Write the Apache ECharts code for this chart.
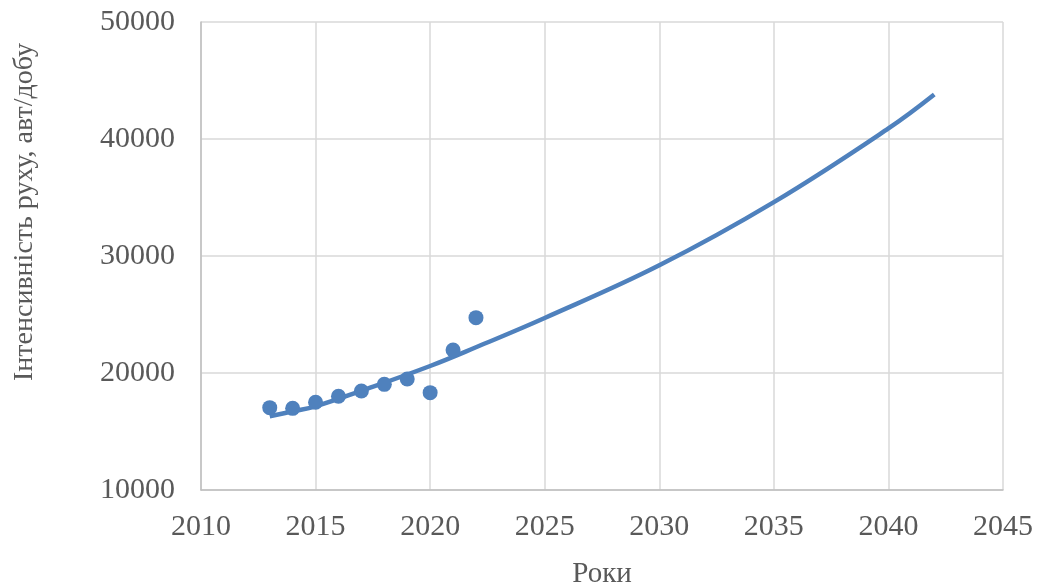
<!DOCTYPE html>
<html>
<head>
<meta charset="utf-8">
<script src="https://cdn.jsdelivr.net/npm/echarts@6/dist/echarts.min.js"></script>
<style>
  html, body { margin: 0; padding: 0; background: #fff; }
  #main { width: 1041px; height: 586px; }
</style>
</head>
<body>
<div id="main"></div>
<script>
// observed counts
const years = [2013, 2014, 2015, 2016, 2017, 2018, 2019, 2020, 2021, 2022];
const traffic = [17040, 16980, 17500, 18010, 18460, 19030, 19490, 18320, 21970, 24730];

// trend curve
const trendYears = [2013, 2014, 2015, 2017, 2020, 2022, 2025, 2030, 2035, 2040, 2042];
const trendValues = [16300, 16720, 17150, 18480, 20600, 22200, 24700, 29200, 34600, 40900, 43800];

const blue = '#4f81bd';
const textColor = '#595959';
const font = '"Liberation Serif", "Times New Roman", serif';

var myChart = echarts.init(document.getElementById('main'));
myChart.setOption({
    animation: false,
    grid: { left: 201, right: 38, top: 22, bottom: 96, outerBoundsMode: 'none' },
    xAxis: {
        type: 'value',
        min: 2010,
        max: 2045,
        interval: 5,
        name: 'Роки',
        nameLocation: 'middle',
        nameGap: 70,
        nameTextStyle: { color: textColor, fontFamily: font, fontSize: 29 },
        axisLine: { lineStyle: { color: '#bfbfbf', width: 1.5 } },
        axisTick: { show: false },
        axisLabel: { color: textColor, fontFamily: font, fontSize: 30, margin: 22,
            formatter: v => String(v) },
        splitLine: { show: true, lineStyle: { color: '#d9d9d9', width: 1.5 } }
    },
    yAxis: {
        type: 'value',
        min: 10000,
        max: 50000,
        interval: 10000,
        axisLine: { show: true, lineStyle: { color: '#bfbfbf', width: 1.5 } },
        axisTick: { show: false },
        axisLabel: { color: textColor, fontFamily: font, fontSize: 30, margin: 26,
            formatter: v => String(v) },
        splitLine: { lineStyle: { color: '#d9d9d9', width: 1.5 } }
    },
    graphic: [{
        type: 'text',
        x: 25,
        y: 212,
        rotation: Math.PI / 2,
        style: {
            text: 'Інтенсивність руху, авт/добу',
            fill: textColor,
            font: '28px ' + font,
            align: 'center',
            verticalAlign: 'middle'
        }
    }],
    series: [
        {
            name: 'trend',
            type: 'line',
            smooth: 0.4,
            showSymbol: false,
            data: trendYears.map((y, i) => [y, trendValues[i]]),
            lineStyle: { color: blue, width: 4.5 },
            z: 2
        },
        {
            name: 'traffic',
            type: 'scatter',
            symbolSize: 15,
            data: years.map((y, i) => [y, traffic[i]]),
            itemStyle: { color: blue, opacity: 1 },
            z: 3
        }
    ]
});
</script>
</body>
</html>
